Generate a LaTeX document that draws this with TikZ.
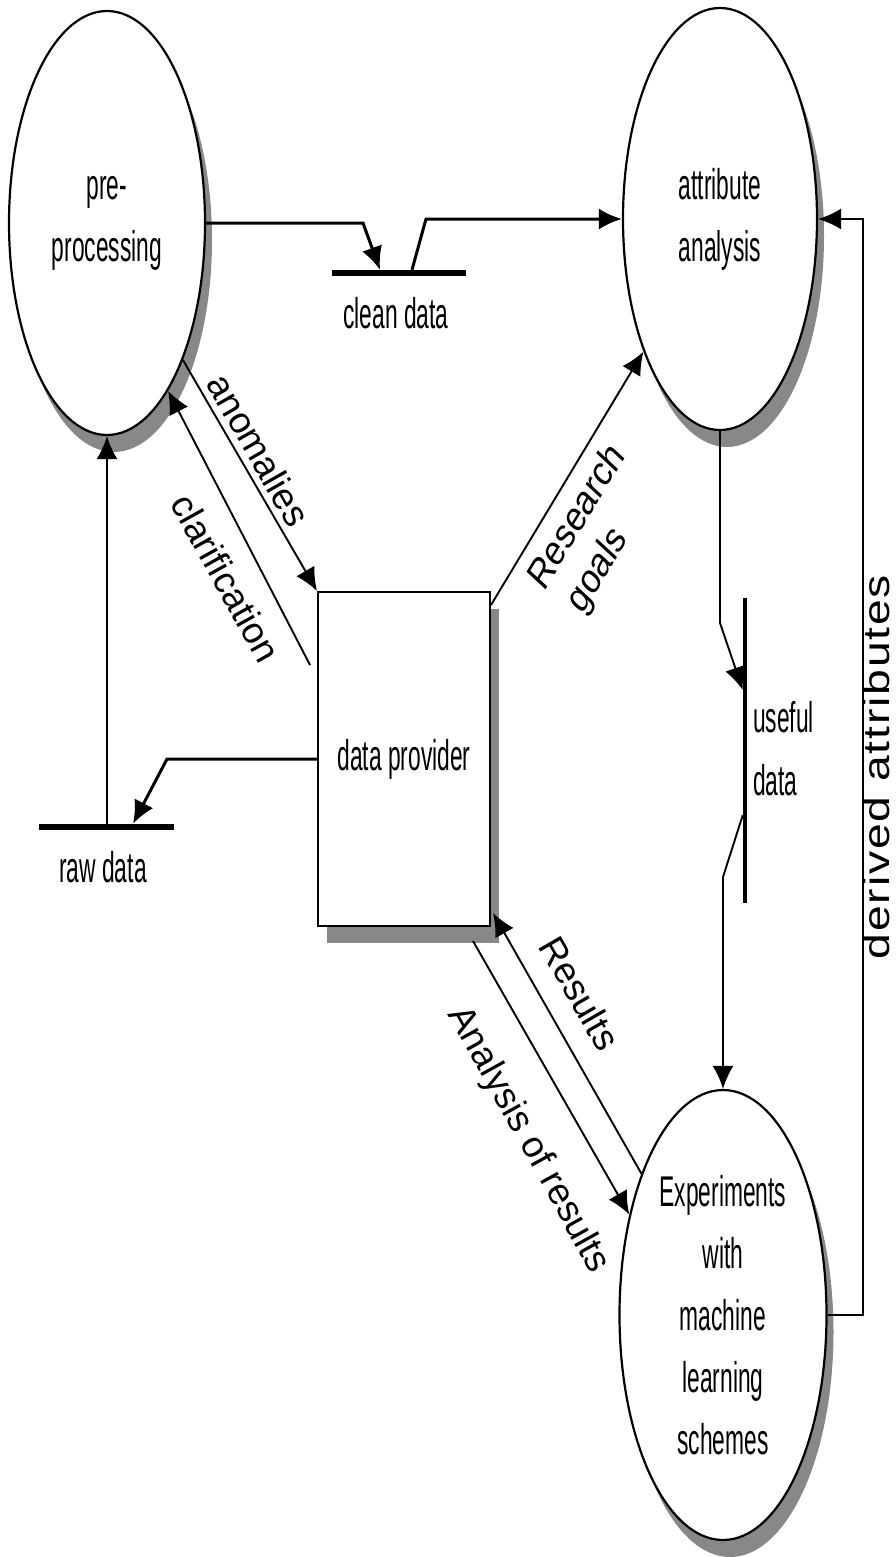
\documentclass[tikz,border=0pt]{standalone}
\usepackage{fontspec}
\setmainfont{Liberation Sans}
\newfontfamily\narrowfont[FakeStretch=0.53]{Liberation Sans}
\newfontfamily\widefont[FakeStretch=1.25,LetterSpace=5]{Liberation Sans}
\newfontfamily\slantfont[FakeSlant=0.21]{Liberation Sans}
\usetikzlibrary{shapes.geometric,arrows.meta,shadows}
\definecolor{shgray}{RGB}{136,136,136}
\begin{document}
\begin{tikzpicture}[x=1pt,y=-1pt,
  shadowed/.style={drop shadow={shadow xshift=7pt,shadow yshift=-17pt,fill=shgray,opacity=1}},
  proc/.style={ellipse,draw,line width=2.2pt,fill=white,inner sep=0pt,shadowed,
    align=center,font=\narrowfont\fontsize{43}{62}\selectfont},
  store/.style={fill=black,inner sep=0pt,draw=none},
  inlbl/.style={inner sep=0pt,font=\narrowfont\fontsize{43}{63}\selectfont},
  lbl/.style={inner sep=0pt,font=\fontsize{37}{44}\selectfont},
  thinflow/.style={line width=1.9pt,-{Latex[length=23pt,width=21pt]}},
  thickflow/.style={line width=3pt,-{Latex[length=23pt,width=21pt]}}
]
\useasboundingbox (0,0) rectangle (895,1557);

% processes
\node[proc,minimum width=196pt,minimum height=424pt] (pre) at (107,223) {pre-\\processing};
\node[proc,minimum width=194pt,minimum height=422pt] (attr) at (720,219) {attribute\\analysis};
\node[proc,minimum width=207pt,minimum height=450pt] (exp) at (723,1315) {Experiments\\with\\machine\\learning\\schemes};

% external entity
\node[draw,line width=2pt,fill=white,inner sep=0pt,minimum width=172pt,minimum height=334pt,
  drop shadow={shadow xshift=9pt,shadow yshift=-17pt,fill=shgray,opacity=1},
  font=\narrowfont\fontsize{43}{62}\selectfont] (prov) at (404,759) {data provider};

% data stores
\node[store,minimum width=134pt,minimum height=6pt] (cleanbar) at (399,273) {};
\node[store,minimum width=135pt,minimum height=6pt] (rawbar) at (106.5,827) {};
\node[store,minimum width=4pt,minimum height=305pt] (usefulbar) at (745,750.5) {};
\node[inlbl,anchor=base] (cleanlbl) at (396,328) {clean data};
\node[inlbl,anchor=base] (rawlbl) at (103,882) {raw data};
\node[inlbl,anchor=west,align=left] (usefullbl) at (753,749) {useful\\data};

% free ends
\coordinate (clarS) at (310,665);
\coordinate (resS) at (491,605);
\coordinate (resT) at (493,913);
\coordinate (anaS) at (473,941);

% flows
\draw[thickflow] (pre.east) -- (363,223) -- (cleanbar.north -| 380,0);
\draw[thickflow] ([xshift=13pt]cleanbar.north) -- (426,219) -- (attr.west);
\draw[thinflow] (attr.south) -- (720,623) -- (usefulbar.west |- 0,690);
\draw[thinflow] (usefulbar.west |- 0,815) -- (723,877) -- (exp.north);
\draw[thinflow] (exp.east) -- (863,1315) |- (attr.east);
\draw[thickflow] (prov.west) -- (167,759) -- (rawbar.north -| 133,0);
\draw[thinflow] (rawbar.north -| 107,0) -- (pre.south);
\draw[thinflow] (pre.-61) -- (prov.north west);
\draw[thinflow] (clarS) -- (pre.-70.6);
\draw[thinflow] (resS) -- (attr.-120.4);
\draw[thinflow] (exp.120.1) -- (resT);
\draw[thinflow] (anaS) -- (exp.133.6);

% flow labels
\node[lbl,rotate=-60.3] (anomlbl) at (259,450) {anomalies};
\node[lbl,rotate=-60.8] (clarlbl) at (226,578) {clarification};
\node[lbl,rotate=59,align=left,font=\slantfont\fontsize{37}{45}\selectfont] (reslbl) at (596,531) {Research\\goals};
\node[lbl,rotate=-60] (resultslbl) at (580,993) {Results};
\node[lbl,rotate=-61] (analbl) at (528,1140) {Analysis of results};
\node[inner sep=0pt,rotate=90,font=\widefont\fontsize{37}{44}\selectfont] (derlbl) at (876,767) {derived attributes};
\end{tikzpicture}
\end{document}
